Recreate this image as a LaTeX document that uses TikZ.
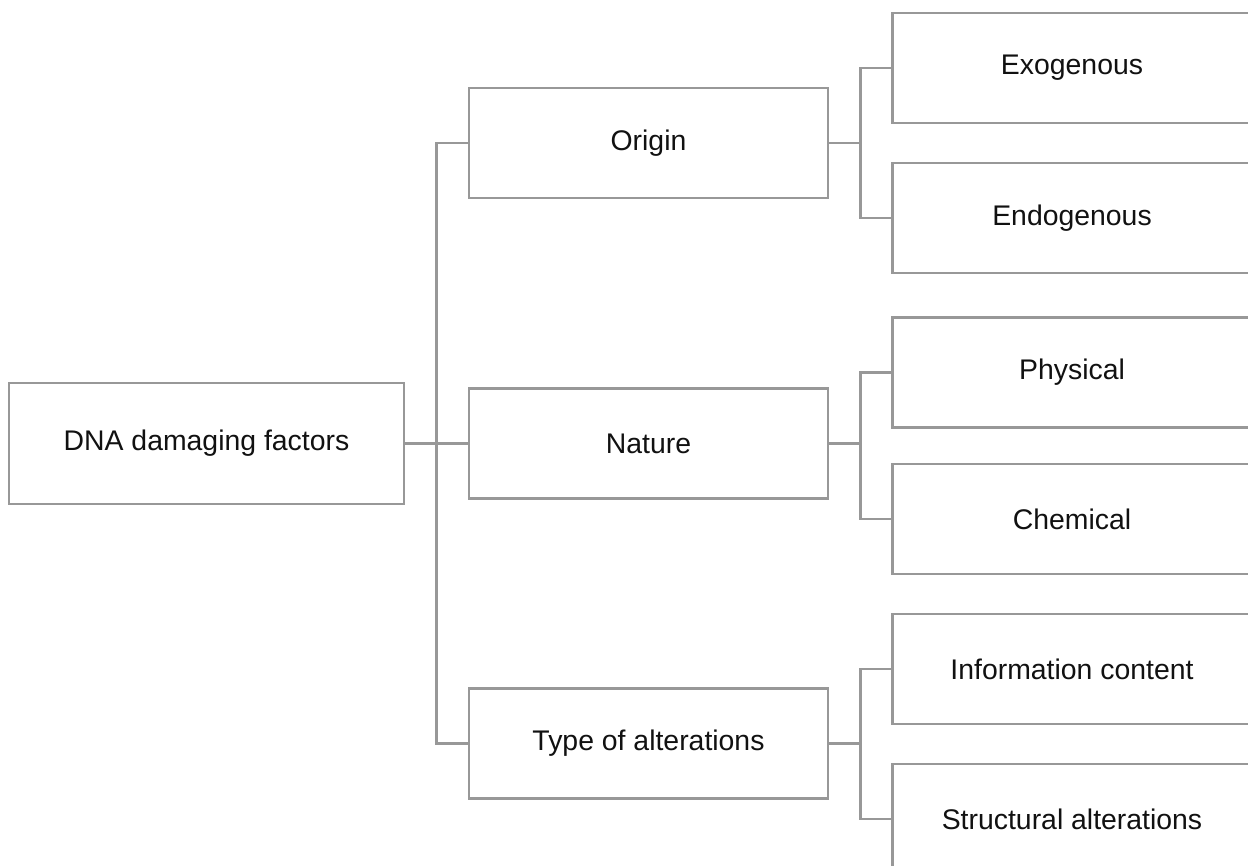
\documentclass[tikz,border=0pt]{standalone}
\usepackage{fontspec}
\setmainfont{Liberation Sans}
\definecolor{linegray}{RGB}{152,152,152}
\definecolor{txt}{RGB}{17,17,17}
\tikzset{
  box/.style={draw=linegray, line width=2.4bp, rectangle, inner sep=0pt,
    minimum height=110bp, minimum width=359bp, text=txt,
    font=\fontsize{28.5}{34}\selectfont},
  rootbox/.style={box, minimum width=395bp, minimum height=121bp},
  conn/.style={draw=linegray, line width=2.4bp}
}
\begin{document}
\begin{tikzpicture}[x=1bp,y=-1bp]
\useasboundingbox (0,0) rectangle (1248,866);
\clip (0,0) rectangle (1248,866);
\fill[white] (0,0) rectangle (1248,866);
% root
\node[rootbox] (root) at (206.5,443.5) {DNA damaging factors};
% middle level
\node[box] (origin) at (648.5,143) {Origin};
\node[box] (nature) at (648.5,443.5) {Nature};
\node[box] (type) at (648.5,743.5) {Type of alterations};
% leaves
\node[box] (exo) at (1072,68) {Exogenous};
\node[box] (endo) at (1072,218) {Endogenous};
\node[box] (phys) at (1072,372.5) {Physical};
\node[box] (chem) at (1072,519) {Chemical};
\node[box] (info) at (1072,669) {Information content};
\node[box] (struct) at (1072,819) {Structural alterations};
% junctions
\coordinate (j0) at (436.5,443.5);
\coordinate (j1) at (860.5,143);
\coordinate (j2) at (860.5,443.5);
\coordinate (j3) at (860.5,743.5);
% connectors
\draw[conn] (root.east) -- (j0);
\draw[conn] (j0) |- (origin.west);
\draw[conn] (j0) |- (nature.west);
\draw[conn] (j0) |- (type.west);
\draw[conn] (origin.east) -- (j1);
\draw[conn] (j1) |- (exo.west);
\draw[conn] (j1) |- (endo.west);
\draw[conn] (nature.east) -- (j2);
\draw[conn] (j2) |- (phys.west);
\draw[conn] (j2) |- (chem.west);
\draw[conn] (type.east) -- (j3);
\draw[conn] (j3) |- (info.west);
\draw[conn] (j3) |- (struct.west);
\end{tikzpicture}
\end{document}
